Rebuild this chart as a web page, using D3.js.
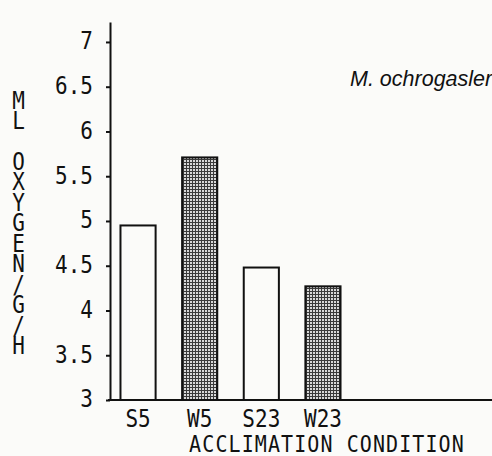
<!DOCTYPE html>
<html>
<head>
<meta charset="utf-8">
<script src="https://cdn.jsdelivr.net/npm/d3@7"></script>
<style>
  body { margin: 0; background: #fbfbf9; }
  svg { display: block; }
  .tick text { font-family: 'DejaVu Sans Mono', monospace; font-size: 21px; fill: #111; }
</style>
</head>
<body>
<div class="canvas"></div>
<script>
// data
const categories = ['S5', 'W5', 'S23', 'W23'];
const oxygen = [4.95, 5.71, 4.48, 4.27];
const shaded = [false, true, false, true];
const yTicks = [3, 3.5, 4, 4.5, 5, 5.5, 6, 6.5, 7];
const yTitleText = 'ML OXYGEN/G/H';
const xTitle = 'ACCLIMATION CONDITION';
const species = 'M. ochrogasler';

const width = 492;
const height = 456;
const stretch = 1.17; // plotter lettering is taller than DejaVu

const svg = d3
  .select('.canvas')
  .append('svg')
  .attr('width', width)
  .attr('height', height);

// dotted screen used for the W bars
const pat = svg
  .append('defs')
  .append('pattern')
  .attr('id', 'screen')
  .attr('patternUnits', 'userSpaceOnUse')
  .attr('width', 3)
  .attr('height', 3);
pat.append('rect').attr('width', 3).attr('height', 3).attr('fill', '#3a3a3a');
pat.append('rect').attr('x', 1).attr('y', 1).attr('width', 2).attr('height', 2).attr('fill', '#d8d8d8');

// Scales
const y = d3.scaleLinear().domain([3, 7.223]).range([400, 22]);
const x = d3
  .scaleBand()
  .domain(categories)
  .range([110, 351])
  .paddingInner(0.43)
  .paddingOuter(0.17);

// bars
svg
  .append('g')
  .selectAll('rect')
  .data(categories)
  .enter()
  .append('rect')
  .attr('x', d => x(d))
  .attr('width', x.bandwidth())
  .attr('y', (d, i) => y(oxygen[i]))
  .attr('height', (d, i) => y(3) - y(oxygen[i]))
  .attr('fill', (d, i) => (shaded[i] ? 'url(#screen)' : 'none'))
  .attr('stroke', '#111')
  .attr('stroke-width', 2);

// y axis
const yAxisGroup = svg
  .append('g')
  .attr('transform', `translate(${x.range()[0]}, 0)`)
  .call(d3.axisLeft(y).tickValues(yTicks).tickSize(4).tickSizeOuter(0).tickPadding(13).tickFormat(d => d));
yAxisGroup.select('.domain').attr('stroke', '#111').attr('stroke-width', 2);
yAxisGroup.selectAll('.tick line').attr('stroke', '#111').attr('stroke-width', 2);
yAxisGroup.selectAll('.tick text').attr('dy', '0.28em').attr('transform', `scale(1, ${stretch})`);

// x axis, baseline runs out to the page edge
const xAxisGroup = svg
  .append('g')
  .attr('transform', `translate(0, ${y(3)})`)
  .call(d3.axisBottom(x).tickSize(0).tickPadding(8.5));
xAxisGroup.select('.domain').remove();
xAxisGroup.selectAll('.tick text').attr('transform', `scale(1, ${stretch})`);
xAxisGroup
  .append('line')
  .attr('x1', x.range()[0] - 2)
  .attr('x2', width)
  .attr('stroke', '#111')
  .attr('stroke-width', 2);

// axis titles
svg
  .append('text')
  .attr('transform', `translate(327, 452) scale(1, ${stretch})`)
  .attr('text-anchor', 'middle')
  .attr('font-family', 'DejaVu Sans Mono, monospace')
  .attr('font-size', 20)
  .attr('letter-spacing', 1.1)
  .attr('fill', '#111')
  .text(xTitle);

// stacked upright letters
svg
  .append('text')
  .attr('transform', `translate(18.5, 86) scale(1, ${stretch})`)
  .attr('font-family', 'DejaVu Sans Mono, monospace')
  .attr('font-size', 21)
  .attr('letter-spacing', -6.4)
  .style('writing-mode', 'vertical-rl')
  .style('text-orientation', 'upright')
  .attr('fill', '#111')
  .text(yTitleText);

// species name
svg
  .append('text')
  .attr('x', 350)
  .attr('y', 86)
  .attr('font-family', 'Liberation Sans, sans-serif')
  .attr('font-style', 'italic')
  .attr('font-size', 21.5)
  .attr('fill', '#111')
  .text(species);
</script>
</body>
</html>
